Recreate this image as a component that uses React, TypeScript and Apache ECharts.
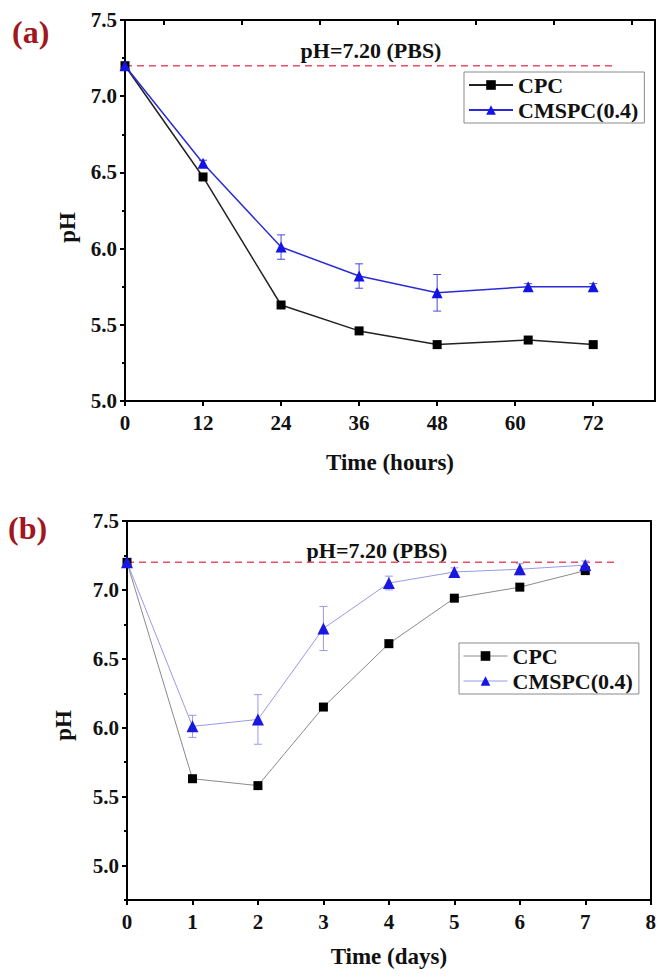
import React, { useEffect, useRef } from "react";
import * as echarts from "echarts";

// ---- Panel (a): hours ----
const hoursA = [0, 12, 24, 36, 48, 62, 72];
const cpcA = [7.2, 6.47, 5.63, 5.46, 5.37, 5.4, 5.37];
const cmspcA = [7.2, 6.56, 6.01, 5.82, 5.71, 5.75, 5.75];
const cmspcAErr = [0.02, 0.02, 0.08, 0.08, 0.12, 0.02, 0.02];
const xTicksA = [0, 12, 24, 36, 48, 60, 72];
const xTopTicksA = [6, 18, 30, 42, 54, 66, 78];
const pbsRangeA = [0, 75.4];

// ---- Panel (b): days ----
const daysB = [0, 1, 2, 3, 4, 5, 6, 7];
const cpcB = [7.2, 5.63, 5.58, 6.15, 6.61, 6.94, 7.02, 7.14];
const cmspcB = [7.2, 6.01, 6.06, 6.72, 7.05, 7.13, 7.15, 7.18];
const cmspcBErr = [0.02, 0.08, 0.18, 0.16, 0.05, 0.03, 0.04, 0.03];
const yLabelsB = [5.0, 5.5, 6.0, 6.5, 7.0, 7.5];
const yMinorB = [4.75, 5.25, 5.75, 6.25, 6.75, 7.25];
const pbsRangeB = [0, 7.5];

const pbsValue = 7.2;
const pbsLabel = "pH=7.20 (PBS)";
const seriesNames = ["CPC", "CMSPC(0.4)"];

const FONT = "'Liberation Serif', 'Times New Roman', serif";

function errSeries(xs: number[], ys: number[], es: number[], xi: number, yi: number, color: string) {
  return {
    type: "custom",
    xAxisIndex: xi,
    yAxisIndex: yi,
    silent: true,
    z: 1,
    data: xs.map((x, i) => [x, ys[i], es[i]]),
    renderItem: (params: any, api: any) => {
      const x = api.value(0);
      const y = api.value(1);
      const e = api.value(2);
      const t = api.coord([x, y + e]);
      const b = api.coord([x, y - e]);
      const w = 4;
      const st = { stroke: color, lineWidth: 1 };
      return {
        type: "group",
        children: [
          { type: "line", shape: { x1: t[0], y1: t[1], x2: b[0], y2: b[1] }, style: st },
          { type: "line", shape: { x1: t[0] - w, y1: t[1], x2: t[0] + w, y2: t[1] }, style: st },
          { type: "line", shape: { x1: b[0] - w, y1: b[1], x2: b[0] + w, y2: b[1] }, style: st },
        ],
      };
    },
  };
}

const axisLineStyle = { show: true, onZero: false, lineStyle: { color: "#000", width: 2 } };
const labelStyle = { fontFamily: FONT, fontWeight: "bold", fontSize: 21, color: "#111" };
const nameStyle = { fontFamily: FONT, fontWeight: "bold", fontSize: 23, color: "#111" };
const legendText = { fontFamily: FONT, fontWeight: "bold", fontSize: 22, color: "#111" };

export default function App() {
  const ref = useRef<HTMLDivElement>(null);
  useEffect(() => {
    if (!ref.current) return;
    const chart = echarts.init(ref.current, null, { renderer: "svg" });
    const option: any = {
      animation: false,
      backgroundColor: "#fff",
      textStyle: { fontFamily: FONT },
      grid: [
        { left: 125, top: 20, width: 530, height: 381 },
        { left: 127, top: 521, width: 526, height: 379 },
      ],
      xAxis: [
        {
          gridIndex: 0, type: "value", position: "bottom", min: 0, max: 81.5, interval: 12,
          axisLine: axisLineStyle,
          axisTick: { show: true, inside: false, length: 5, lineStyle: { width: 2, color: "#000" }, customValues: xTicksA },
          axisLabel: { ...labelStyle, margin: 11, customValues: xTicksA },
          splitLine: { show: false },
          name: "Time (hours)", nameLocation: "middle", nameGap: 50, nameTextStyle: nameStyle,
        },
        {
          gridIndex: 0, type: "value", position: "top", min: 0, max: 81.5, interval: 12,
          axisLine: axisLineStyle,
          axisTick: { show: true, inside: true, length: 5, lineStyle: { width: 2, color: "#000" }, customValues: xTopTicksA },
          axisLabel: { show: false },
          splitLine: { show: false },
        },
        {
          gridIndex: 1, type: "value", position: "bottom", min: 0, max: 8, interval: 1,
          axisLine: axisLineStyle,
          axisTick: { show: true, inside: false, length: 5, lineStyle: { width: 2, color: "#000" } },
          axisLabel: { ...labelStyle, margin: 11 },
          splitLine: { show: false },
          name: "Time (days)", nameLocation: "middle", nameGap: 45, nameTextStyle: nameStyle,
        },
        {
          gridIndex: 1, type: "value", position: "top", min: 0, max: 8, interval: 1,
          axisLine: axisLineStyle, axisTick: { show: false }, axisLabel: { show: false }, splitLine: { show: false },
        },
      ],
      yAxis: [
        {
          gridIndex: 0, type: "value", position: "left", min: 5, max: 7.5, interval: 0.5,
          axisLine: axisLineStyle,
          axisTick: { show: true, inside: false, length: 5, lineStyle: { width: 2, color: "#000" } },
          minorTick: { show: true, splitNumber: 2, length: 3, lineStyle: { width: 2, color: "#000" } },
          axisLabel: { ...labelStyle, margin: 8, formatter: (v: number) => v.toFixed(1) },
          splitLine: { show: false },
          name: "pH", nameLocation: "middle", nameGap: 46, nameRotate: 90,
          nameTextStyle: { ...nameStyle, padding: [0, 34, 0, 0] },
        },
        {
          gridIndex: 0, type: "value", position: "right", min: 5, max: 7.5, interval: 0.5,
          axisLine: axisLineStyle, axisTick: { show: false }, axisLabel: { show: false }, splitLine: { show: false },
        },
        {
          gridIndex: 1, type: "value", position: "left", min: 4.75, max: 7.5,
          axisLine: axisLineStyle,
          axisTick: { show: true, inside: false, length: 5, lineStyle: { width: 2, color: "#000" }, customValues: yLabelsB },
          axisLabel: { ...labelStyle, margin: 8, customValues: yLabelsB, formatter: (v: number) => v.toFixed(1) },
          splitLine: { show: false },
          name: "pH", nameLocation: "middle", nameGap: 52, nameRotate: 90,
          nameTextStyle: { ...nameStyle, padding: [0, 30, 0, 0] },
        },
        {
          gridIndex: 1, type: "value", position: "left", min: 4.75, max: 7.5,
          axisLine: { show: false, onZero: false },
          axisTick: { show: true, inside: false, length: 3, lineStyle: { width: 2, color: "#000" }, customValues: yMinorB },
          axisLabel: { show: false }, splitLine: { show: false },
        },
        {
          gridIndex: 1, type: "value", position: "right", min: 4.75, max: 7.5,
          axisLine: axisLineStyle, axisTick: { show: false }, axisLabel: { show: false }, splitLine: { show: false },
        },
      ],
      legend: [
        {
          left: 464, top: 72, orient: "vertical",
          data: seriesNames,
          itemWidth: 44, itemHeight: 12, itemGap: 3,
          padding: [2, 6, 2, 4],
          borderColor: "#8a8a8a", borderWidth: 1, backgroundColor: "#fff",
          textStyle: legendText,
        },
        {
          left: 459, top: 643, orient: "vertical",
          data: [
            { name: seriesNames[0], lineStyle: { color: "#8a8a8a", width: 1 } },
            { name: seriesNames[1], lineStyle: { color: "#9a9ae8", width: 1 } },
          ],
          itemWidth: 44, itemHeight: 12, itemGap: 3,
          padding: [2, 6, 2, 4],
          borderColor: "#8a8a8a", borderWidth: 1, backgroundColor: "#fff",
          textStyle: legendText,
        },
      ],
      series: [
        {
          name: "pbsA", type: "line", xAxisIndex: 0, yAxisIndex: 0, symbol: "none", silent: true, z: 0,
          data: pbsRangeA.map((x) => [x, pbsValue]),
          lineStyle: { color: "#e8506a", width: 1.5, type: [7, 5] },
        },
        errSeries(hoursA, cmspcA, cmspcAErr, 0, 0, "#4a4ad6"),
        {
          name: seriesNames[0], type: "line", xAxisIndex: 0, yAxisIndex: 0,
          data: hoursA.map((x, i) => [x, cpcA[i]]),
          symbol: "rect", symbolSize: 9,
          lineStyle: { color: "#222", width: 1.5 },
          itemStyle: { color: "#000" },
        },
        {
          name: seriesNames[1], type: "line", xAxisIndex: 0, yAxisIndex: 0,
          data: hoursA.map((x, i) => [x, cmspcA[i]]),
          symbol: "triangle", symbolSize: 11,
          lineStyle: { color: "#2b2bd6", width: 1.5 },
          itemStyle: { color: "#1414e6" },
        },
        {
          name: "pbsB", type: "line", xAxisIndex: 2, yAxisIndex: 2, symbol: "none", silent: true, z: 0,
          data: pbsRangeB.map((x) => [x, pbsValue]),
          lineStyle: { color: "#e8506a", width: 1.5, type: [7, 5] },
        },
        errSeries(daysB, cmspcB, cmspcBErr, 2, 2, "#9a9ae8"),
        {
          name: seriesNames[0], type: "line", xAxisIndex: 2, yAxisIndex: 2,
          data: daysB.map((x, i) => [x, cpcB[i]]),
          symbol: "rect", symbolSize: 9,
          lineStyle: { color: "#8a8a8a", width: 1 },
          itemStyle: { color: "#000" },
        },
        {
          name: seriesNames[1], type: "line", xAxisIndex: 2, yAxisIndex: 2,
          data: daysB.map((x, i) => [x, cmspcB[i]]),
          symbol: "triangle", symbolSize: 12,
          lineStyle: { color: "#9a9ae8", width: 1 },
          itemStyle: { color: "#1818e0" },
        },
      ],
      graphic: [
        {
          type: "text", x: 12, y: 32,
          style: { text: "(a)", fontFamily: FONT, fontWeight: "bold", fontSize: 32, fill: "#a0181e", verticalAlign: "middle" },
        },
        {
          type: "text", x: 8, y: 528,
          style: { text: "(b)", fontFamily: FONT, fontWeight: "bold", fontSize: 32, fill: "#a0181e", verticalAlign: "middle" },
        },
        {
          type: "text", x: 371, y: 50,
          style: { text: pbsLabel, fontFamily: FONT, fontWeight: "bold", fontSize: 22, fill: "#111", align: "center", verticalAlign: "middle" },
        },
        {
          type: "text", x: 377, y: 550,
          style: { text: pbsLabel, fontFamily: FONT, fontWeight: "bold", fontSize: 22, fill: "#111", align: "center", verticalAlign: "middle" },
        },
      ],
    };
    chart.setOption(option);
    return () => chart.dispose();
  }, []);
  return <div ref={ref} style={{ position: "absolute", left: 0, top: 0, width: 659, height: 977 }} />;
}
